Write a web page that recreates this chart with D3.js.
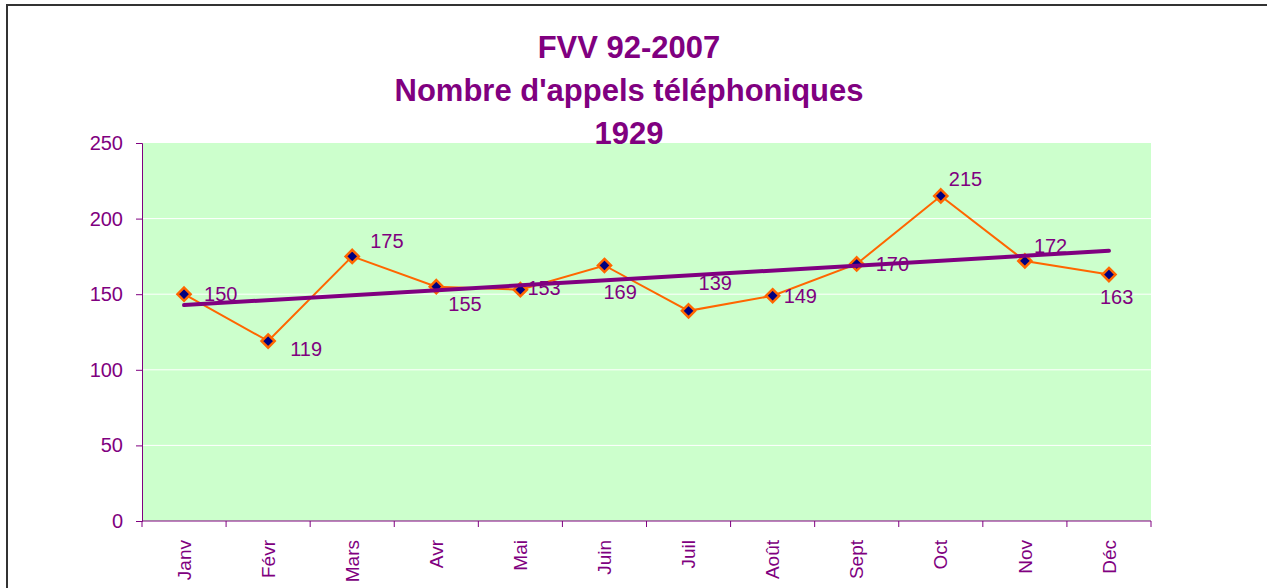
<!DOCTYPE html>
<html>
<head>
<meta charset="utf-8">
<script src="https://cdn.jsdelivr.net/npm/d3@7"></script>
<style>
  body { margin: 0; background: #fff; }
  text { font-family: "Liberation Sans", Arial, sans-serif; }
</style>
</head>
<body>
<script>
// monthly call counts
var months = ["Janv", "Févr", "Mars", "Avr", "Mai", "Juin", "Juil", "Août", "Sept", "Oct", "Nov", "Déc"];
var calls = [150, 119, 175, 155, 153, 169, 139, 149, 170, 215, 172, 163];
var yTicks = [0, 50, 100, 150, 200, 250];
var titleLines = ["FVV 92-2007", "Nombre d'appels téléphoniques", "1929"];
// where each data label sits relative to its point (as placed in the original)
var labelDx = [20, 22, 18, 12, 7, -1, 10, 11, 19, 8, 9, -9];
var labelDy = [0, 8, -15, 17, -2, 27, -28, 0, 0, -17, -15, 22];

var purple = "#800080";

var svg = d3.select("body")
    .append("svg")
    .attr("width", 1267)
    .attr("height", 588);

// outer frame (continues past the picture edge)
svg.append("rect")
    .attr("x", 7)
    .attr("y", 5)
    .attr("width", 1300)
    .attr("height", 650)
    .attr("fill", "none")
    .attr("stroke", "#333")
    .attr("stroke-width", 2);

var margin = { top: 143, left: 142 },
    width = 1009,
    height = 378;

var g = svg.append("g")
    .attr("transform", "translate(" + margin.left + "," + margin.top + ")");

var x = d3.scaleBand()
    .domain(months)
    .range([0, width]);

var y = d3.scaleLinear()
    .domain([0, 250])
    .range([height, 0]);

// plot background
g.append("rect")
    .attr("width", width)
    .attr("height", height)
    .attr("fill", "#CCFFCC");

// gridlines
g.selectAll(".grid")
    .data(yTicks.slice(1, -1))
    .enter().append("line")
    .attr("x1", 0)
    .attr("x2", width)
    .attr("y1", function (d) { return y(d); })
    .attr("y2", function (d) { return y(d); })
    .attr("stroke", "#fff")
    .attr("stroke-width", 1);

// y axis
var yAxis = g.append("g")
    .call(d3.axisLeft(y).tickValues(yTicks).tickSize(6).tickPadding(13));
yAxis.selectAll("line, path").attr("stroke", purple);
yAxis.selectAll("text")
    .attr("fill", purple)
    .style("font-size", "20px")
    .style("font-family", "Liberation Sans, Arial, sans-serif");

// x axis: ticks on band boundaries
var xAxis = g.append("g").attr("transform", "translate(0," + height + ")");
xAxis.append("line")
    .attr("x1", 0).attr("x2", width)
    .attr("stroke", purple);
xAxis.selectAll(".tick")
    .data(months.concat(["end"]))
    .enter().append("line")
    .attr("x1", function (d, i) { return i * x.step(); })
    .attr("x2", function (d, i) { return i * x.step(); })
    .attr("y1", 0)
    .attr("y2", 6)
    .attr("stroke", purple);
xAxis.selectAll(".lab")
    .data(months)
    .enter().append("text")
    .attr("transform", function (d) {
        return "translate(" + (x(d) + x.bandwidth() / 2) + ",19)rotate(-90)";
    })
    .attr("text-anchor", "end")
    .attr("dy", "0.35em")
    .attr("fill", purple)
    .style("font-size", "19px")
    .text(function (d) { return d; });

var cx = function (d, i) { return x(months[i]) + x.bandwidth() / 2; };

// data line
g.append("path")
    .datum(calls)
    .attr("fill", "none")
    .attr("stroke", "#FF6600")
    .attr("stroke-width", 2)
    .attr("d", d3.line()
        .x(cx)
        .y(function (d) { return y(d); }));

// diamond markers
g.selectAll(".pt")
    .data(calls)
    .enter().append("path")
    .attr("transform", function (d, i) { return "translate(" + cx(d, i) + "," + y(d) + ")"; })
    .attr("d", d3.symbol().type(d3.symbolDiamond2).size(110))
    .attr("fill", "#000080")
    .attr("stroke", "#FF6600")
    .attr("stroke-width", 2.5);

// data labels
g.selectAll(".val")
    .data(calls)
    .enter().append("text")
    .attr("x", function (d, i) { return cx(d, i) + labelDx[i]; })
    .attr("y", function (d, i) { return y(d) + labelDy[i]; })
    .attr("dy", "0.35em")
    .attr("fill", purple)
    .style("font-size", "20px")
    .text(function (d) { return d; });

// linear trend line
var n = calls.length;
var mx = d3.mean(calls, function (d, i) { return i + 1; });
var my = d3.mean(calls);
var sxy = d3.sum(calls, function (d, i) { return (i + 1 - mx) * (d - my); });
var sxx = d3.sum(calls, function (d, i) { return (i + 1 - mx) * (i + 1 - mx); });
var slope = sxy / sxx;
var trend = [0, n - 1].map(function (i) { return { i: i, v: my + slope * (i + 1 - mx) }; });

g.append("path")
    .datum(trend)
    .attr("fill", "none")
    .attr("stroke", purple)
    .attr("stroke-width", 4)
    .attr("stroke-linecap", "round")
    .attr("d", d3.line()
        .x(function (d) { return cx(d, d.i); })
        .y(function (d) { return y(d.v); }));

// title
svg.selectAll(".title")
    .data(titleLines)
    .enter().append("text")
    .attr("x", 629)
    .attr("y", function (d, i) { return 58 + i * 43; })
    .attr("text-anchor", "middle")
    .attr("fill", purple)
    .style("font-size", "31px")
    .style("font-weight", "bold")
    .text(function (d) { return d; });
</script>
</body>
</html>
